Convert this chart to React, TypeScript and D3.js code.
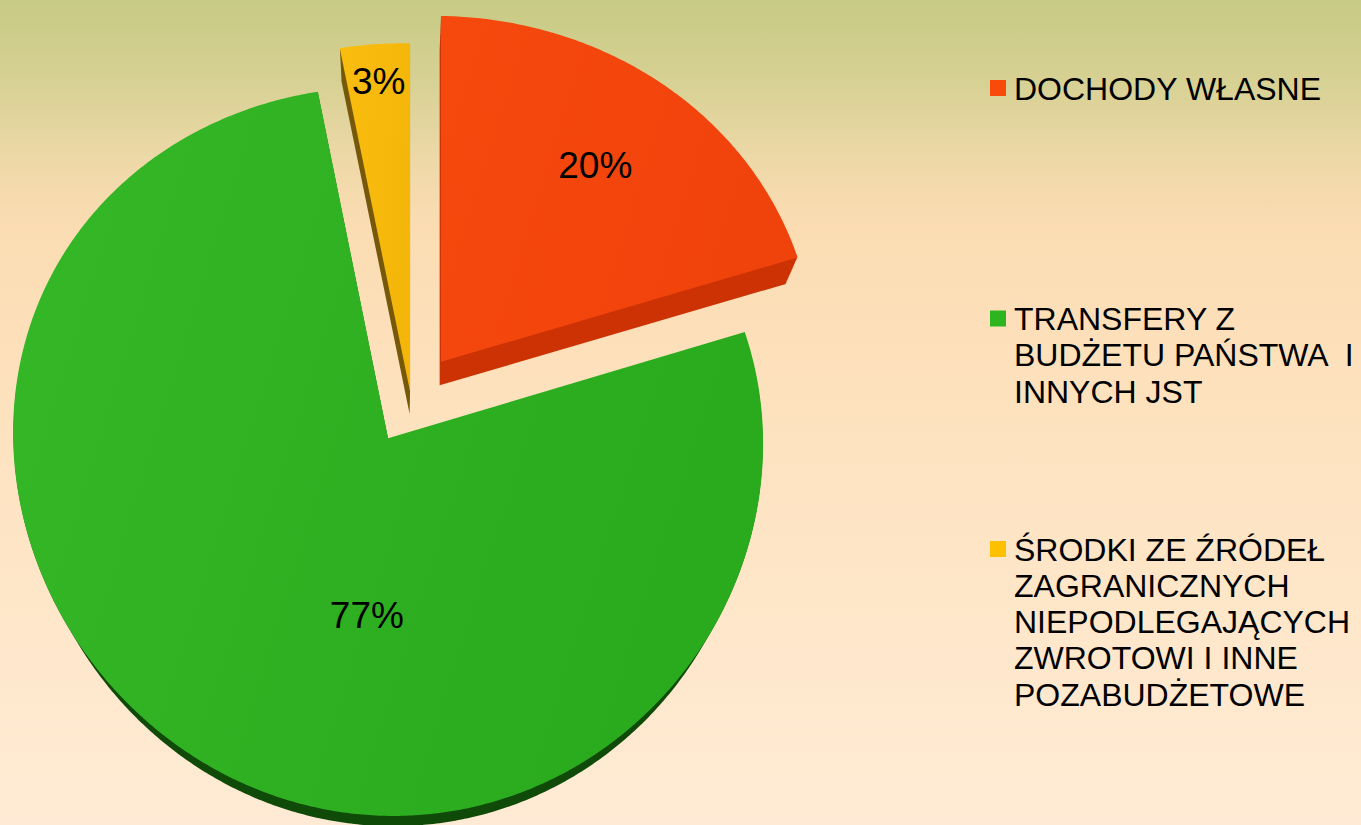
import React from "react";
import * as d3 from "d3";

// data
const categories = [
  "DOCHODY WŁASNE",
  "TRANSFERY Z BUDŻETU PAŃSTWA  I INNYCH JST",
  "ŚRODKI ZE ŹRÓDEŁ ZAGRANICZNYCH NIEPODLEGAJĄCYCH ZWROTOWI I INNE POZABUDŻETOWE",
];
const legendLines = [
  ["DOCHODY WŁASNE"],
  ["TRANSFERY Z", "BUDŻETU PAŃSTWA  I", "INNYCH JST"],
  ["ŚRODKI ZE ŹRÓDEŁ", "ZAGRANICZNYCH", "NIEPODLEGAJĄCYCH", "ZWROTOWI I INNE", "POZABUDŻETOWE"],
];
const values = [20, 77, 3];
const percentLabels = ["20%", "77%", "3%"];

// styles
const topColors = [
  ["#F6490E", "#F0420B"],
  ["#35B828", "#2AAA1D"],
  ["#F9BD10", "#F4B609"],
];
const legendColors = ["#F84A0B", "#2DB51F", "#FFC000"];
const sideColors = ["#CD3205", "#0F4A08", "#76580A"];
const explode = [51, 45, 10];
const labelAngleFrac = [0.5, 0.414, 0.5];
const labelRadiusFrac = [0.7, 0.48, 0.89];

const W = 1361;
const H = 825;
const CX = 411;
const CY = 401;
const R = 375;
// extrusion converges toward a point far below the pie
const VP: [number, number] = [395, 1170];
const SHRINK = 0.029;
const STEPS = 24;
const FONT = "'Liberation Sans', Arial, Helvetica, sans-serif";

// pseudo-perspective: far side (py > 0) a bit flatter, right side a bit lower
const project = (px: number, py: number): [number, number] => [
  CX + px,
  CY - py * (0.965 - 0.035 * (py / R)) + 0.015 * px,
];

export default function App() {
  const pie = d3.pie<number>().sort(null).value((d) => d);
  const arcs = pie(values);
  const line = d3.line().curve(d3.curveLinearClosed);

  const slices = arcs.map((a, i) => {
    const mid = (a.startAngle + a.endAngle) / 2;
    const ox = explode[i] * Math.sin(mid);
    const oy = explode[i] * Math.cos(mid);
    const n = Math.max(8, Math.ceil(((a.endAngle - a.startAngle) * 180) / Math.PI / 0.5));
    const pts: [number, number][] = [project(ox, oy)];
    d3.range(n + 1).forEach((j) => {
      const t = a.startAngle + ((a.endAngle - a.startAngle) * j) / n;
      pts.push(project(ox + R * Math.sin(t), oy + R * Math.cos(t)));
    });
    const top = line(pts) as string;
    let side = "";
    for (let k = 1; k <= STEPS; k++) {
      const f = (SHRINK * k) / STEPS;
      side += line(
        pts.map(([x, y]) => [x + f * (VP[0] - x), y + f * (VP[1] - y)] as [number, number])
      );
    }
    const la = a.startAngle + (a.endAngle - a.startAngle) * labelAngleFrac[i];
    const lr = R * labelRadiusFrac[i];
    const lp = project(ox + lr * Math.sin(la), oy + lr * Math.cos(la));
    return { top, side, lp, i };
  });

  const legendTop = 88;
  const legendStep = 230.5;
  const lineH = 36.3;

  return (
    <svg
      width={W}
      height={H}
      viewBox={`0 0 ${W} ${H}`}
      style={{ position: "absolute", left: 0, top: 0, display: "block" }}
    >
      <defs>
        <linearGradient id="bg" x1="0" y1="0" x2="0" y2="1">
          <stop offset="0" stopColor="#C7CA84" />
          <stop offset="0.1" stopColor="#D7D194" />
          <stop offset="0.19" stopColor="#EDD8A7" />
          <stop offset="0.27" stopColor="#FBDCB2" />
          <stop offset="0.45" stopColor="#FDE1BC" />
          <stop offset="1" stopColor="#FFEBD5" />
        </linearGradient>
        {topColors.map((c, i) => (
          <linearGradient key={i} id={`top${i}`} x1="0" y1="0" x2="1" y2="0.3">
            <stop offset="0" stopColor={c[0]} />
            <stop offset="1" stopColor={c[1]} />
          </linearGradient>
        ))}
      </defs>
      <rect x={0} y={0} width={W} height={H} fill="url(#bg)" />

      {slices.map((s) => (
        <g key={s.i}>
          <path d={s.side} fill={sideColors[s.i]} />
          <path d={s.top} fill={`url(#top${s.i})`} />
        </g>
      ))}

      {slices.map((s) => (
        <text
          key={`l${s.i}`}
          x={s.lp[0]}
          y={s.lp[1] + 13}
          textAnchor="middle"
          fontFamily={FONT}
          fontSize={37}
          fill="#000"
        >
          {percentLabels[s.i]}
        </text>
      ))}

      <g>
        {categories.map((c, i) => {
          const y0 = legendTop + i * legendStep;
          return (
            <g key={c}>
              <rect x={990} y={y0 - 8} width={16} height={16} fill={legendColors[i]} />
              {legendLines[i].map((t, j) => (
                <text
                  key={j}
                  x={1014}
                  y={y0 + j * lineH + 11.5}
                  fontFamily={FONT}
                  fontSize={32}
                  fill="#000"
                  style={{ whiteSpace: "pre" }}
                >
                  {t}
                </text>
              ))}
            </g>
          );
        })}
      </g>
    </svg>
  );
}
